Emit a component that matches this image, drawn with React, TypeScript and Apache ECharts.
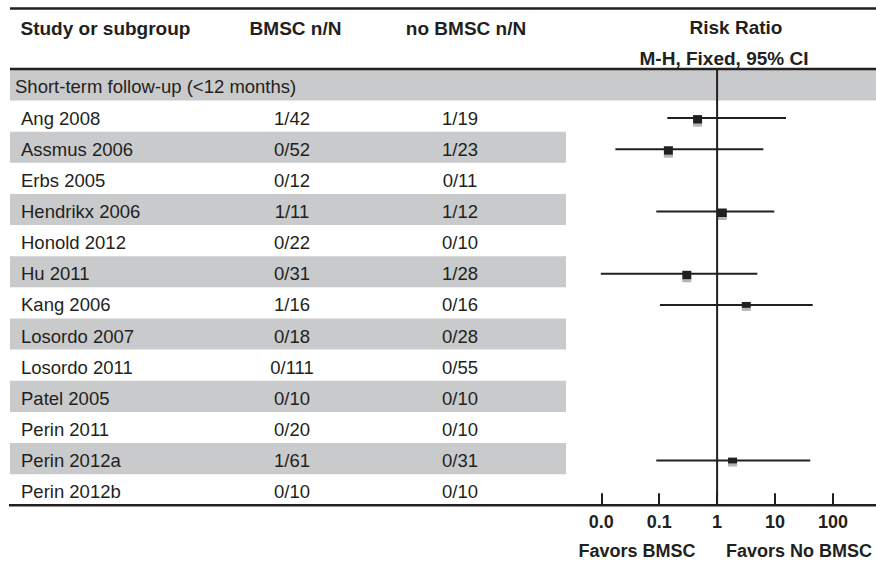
import React, { useEffect, useRef } from "react";
import * as echarts from "echarts";

const subgroupLabel = "Short-term follow-up (<12 months)";
const studies = [
  "Ang 2008", "Assmus 2006", "Erbs 2005", "Hendrikx 2006", "Honold 2012", "Hu 2011",
  "Kang 2006", "Losordo 2007", "Losordo 2011", "Patel 2005", "Perin 2011", "Perin 2012a", "Perin 2012b",
];
const bmscNN = ["1/42", "0/52", "0/12", "1/11", "0/22", "0/31", "1/16", "0/18", "0/111", "0/10", "0/20", "1/61", "0/10"];
const noBmscNN = ["1/19", "1/23", "0/11", "1/12", "0/10", "1/28", "0/16", "0/28", "0/55", "0/10", "0/10", "0/31", "0/10"];
// Risk ratio point estimates and 95% CI (null = not estimable)
const riskRatio: (number | null)[] = [0.46, 0.144, null, 1.23, null, 0.30, 3.19, null, null, null, null, 1.85, null];
const ciLower: (number | null)[] = [0.138, 0.0175, null, 0.089, null, 0.0098, 0.103, null, null, null, null, 0.089, null];
const ciUpper: (number | null)[] = [15.5, 6.28, null, 9.73, null, 4.95, 44.8, null, null, null, null, 40.7, null];
const weights: (number | null)[] = [1, 1, null, 1, null, 1, 0.7, null, null, null, null, 0.7, null];
const tickLabels = ["0.0", "0.1", "1", "10", "100"];
const favorsLeft = "Favors BMSC";
const favorsRight = "Favors No BMSC";

const INK = "#231f20";
const GRAY = "#c9cacc";
const FONT = "'Liberation Sans', Arial, Helvetica, sans-serif";

export default function App() {
  const ref = useRef<HTMLDivElement>(null);
  useEffect(() => {
    document.body.style.margin = "0";
    const chart = echarts.init(ref.current!, null, { renderer: "svg" });
    const rowCount = studies.length + 1;
    const tableData = Array.from({ length: rowCount }, (_, i) => [0, i]);
    const forestData: number[][] = [];
    studies.forEach((_, k) => {
      if (riskRatio[k] != null) {
        forestData.push([ciLower[k] as number, k + 1, ciUpper[k] as number, riskRatio[k] as number, weights[k] as number]);
      }
    });
    const dy = 2;

    chart.setOption({
      animation: false,
      grid: [
        { left: 10, top: 69.4, width: 556, height: 435.9 },
        { left: 601.3, top: 69.4, width: 231.6, height: 435.9 },
      ],
      xAxis: [
        { gridIndex: 0, type: "value", min: 0, max: 556, show: false },
        {
          gridIndex: 1, type: "log", logBase: 10, min: 0.01, max: 100, position: "bottom",
          axisLine: { show: false, onZero: false },
          splitLine: { show: false },
          axisTick: { show: true, inside: true, length: 12, lineStyle: { color: INK, width: 2 } },
          axisLabel: {
            margin: 8, color: INK, fontFamily: FONT, fontWeight: "bold", fontSize: 18,
            formatter: (v: number) => tickLabels[Math.round(Math.log10(v)) + 2] ?? String(v),
          },
        },
      ],
      yAxis: [
        { gridIndex: 0, type: "value", min: 0, max: rowCount, inverse: true, show: false },
        { gridIndex: 1, type: "value", min: 0, max: rowCount, inverse: true, show: false },
      ],
      series: [
        {
          type: "custom",
          xAxisIndex: 0, yAxisIndex: 0,
          clip: false, silent: true, z: 1,
          data: tableData,
          encode: { x: 0, y: 1 },
          renderItem: (params: any, api: any) => {
            const i = api.value(1);
            const [x0, yc] = api.coord([0, i + 0.5]);
            const h = api.size([0, 1])[1];
            const top = yc - h / 2;
            const children: any[] = [];
            const textStyle = (text: string, x: number, align: string) => ({
              type: "text",
              style: {
                text, x, y: yc + dy, fill: INK, fontFamily: FONT, fontSize: 18.5,
                align, verticalAlign: "middle",
              },
            });
            if (i === 0) {
              children.push({ type: "rect", shape: { x: x0, y: top, width: api.getWidth() - x0, height: h }, style: { fill: GRAY } });
              children.push(textStyle(subgroupLabel, x0 + 5, "left"));
            } else {
              const k = i - 1;
              if (i % 2 === 0) {
                children.push({ type: "rect", shape: { x: x0, y: top, width: 556, height: h }, style: { fill: GRAY } });
              }
              children.push(textStyle(studies[k], api.coord([11, 0])[0], "left"));
              children.push(textStyle(bmscNN[k], api.coord([282, 0])[0], "center"));
              children.push(textStyle(noBmscNN[k], api.coord([450, 0])[0], "center"));
            }
            return { type: "group", children };
          },
        },
        {
          type: "custom",
          xAxisIndex: 1, yAxisIndex: 1,
          clip: false, silent: true, z: 3,
          data: forestData,
          encode: { x: [0, 2, 3], y: 1 },
          renderItem: (params: any, api: any) => {
            const row = api.value(1);
            const [xl, yc0] = api.coord([api.value(0), row + 0.5]);
            const yc = yc0 + dy;
            const xu = api.coord([api.value(2), row + 0.5])[0];
            const xp = api.coord([api.value(3), row + 0.5])[0];
            const w = api.value(4);
            const sw = 9;
            const sh = 8.5 * w;
            const sTop = yc - 3;
            return {
              type: "group",
              children: [
                { type: "line", shape: { x1: xl, y1: yc, x2: xu, y2: yc }, style: { stroke: INK, lineWidth: 2 } },
                { type: "rect", shape: { x: xp - sw / 2, y: sTop + sh, width: sw, height: 3 }, style: { fill: "#b4b5b7" } },
                { type: "rect", shape: { x: xp - sw / 2, y: sTop, width: sw, height: sh }, style: { fill: INK } },
              ],
            };
          },
        },
        {
          type: "line",
          xAxisIndex: 1, yAxisIndex: 1,
          silent: true, z: 4,
          symbol: "none",
          lineStyle: { color: INK, width: 2 },
          data: [[1, 0], [1, rowCount]],
        },
      ],
      graphic: [
        { type: "line", z: 10, shape: { x1: 10, y1: 8.5, x2: 876, y2: 8.5 }, style: { stroke: INK, lineWidth: 2.5 } },
        { type: "line", z: 10, shape: { x1: 10, y1: 69, x2: 876, y2: 69 }, style: { stroke: INK, lineWidth: 2.5 } },
        { type: "line", z: 10, shape: { x1: 9, y1: 505.3, x2: 876, y2: 505.3 }, style: { stroke: INK, lineWidth: 2.5 } },
        { type: "text", z: 10, x: 20.5, y: 28, style: { text: "Study or subgroup", fill: INK, fontFamily: FONT, fontWeight: "bold", fontSize: 19, align: "left", verticalAlign: "middle" } },
        { type: "text", z: 10, x: 295.5, y: 28, style: { text: "BMSC n/N", fill: INK, fontFamily: FONT, fontWeight: "bold", fontSize: 19, align: "center", verticalAlign: "middle" } },
        { type: "text", z: 10, x: 466, y: 28, style: { text: "no BMSC n/N", fill: INK, fontFamily: FONT, fontWeight: "bold", fontSize: 19, align: "center", verticalAlign: "middle" } },
        { type: "text", z: 10, x: 736, y: 27, style: { text: "Risk Ratio", fill: INK, fontFamily: FONT, fontWeight: "bold", fontSize: 19, align: "center", verticalAlign: "middle" } },
        { type: "text", z: 10, x: 724, y: 58, style: { text: "M-H, Fixed, 95% CI", fill: INK, fontFamily: FONT, fontWeight: "bold", fontSize: 19, align: "center", verticalAlign: "middle" } },
        { type: "text", z: 10, x: 637, y: 551, style: { text: favorsLeft, fill: INK, fontFamily: FONT, fontWeight: "bold", fontSize: 18, align: "center", verticalAlign: "middle" } },
        { type: "text", z: 10, x: 799, y: 551, style: { text: favorsRight, fill: INK, fontFamily: FONT, fontWeight: "bold", fontSize: 18, align: "center", verticalAlign: "middle" } },
      ],
    });
    return () => chart.dispose();
  }, []);
  return <div ref={ref} style={{ width: 876, height: 562 }} />;
}
